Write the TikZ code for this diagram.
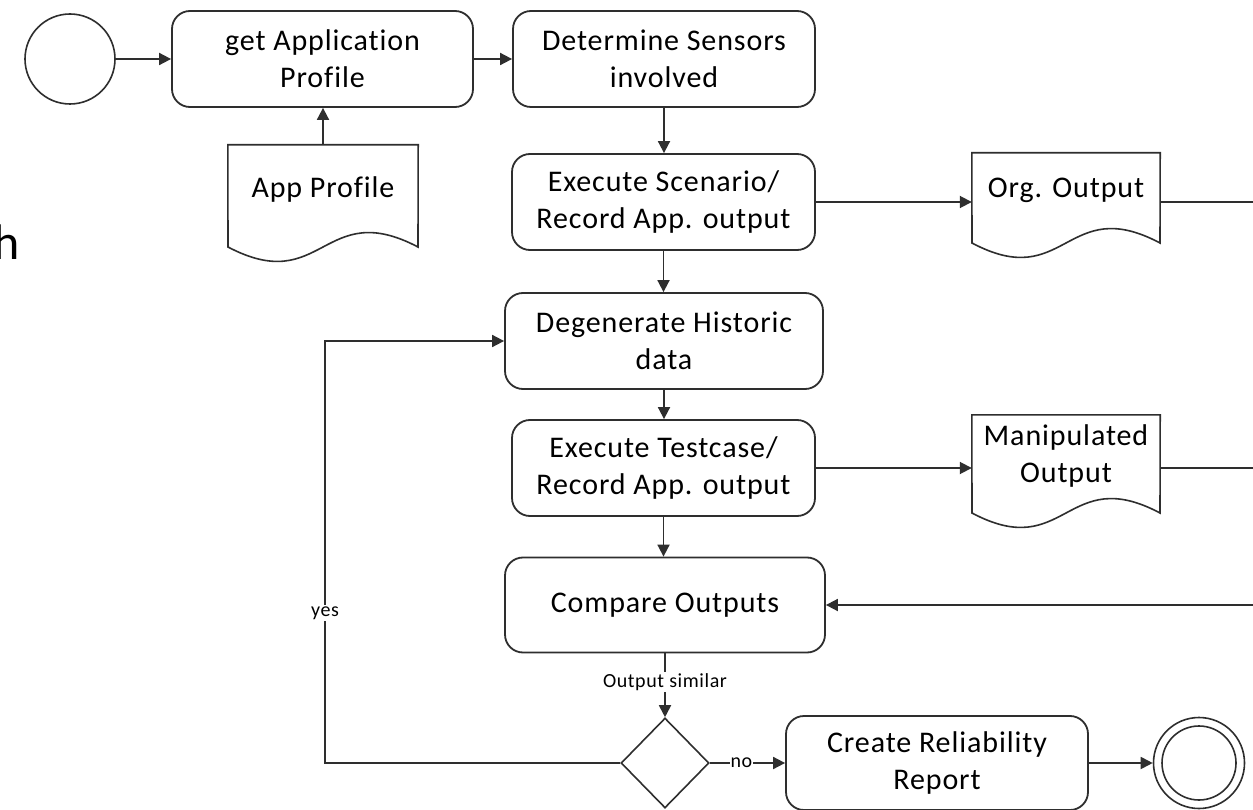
\documentclass[tikz,border=0pt]{standalone}
\usepackage{fontspec}
\setmainfont{Carlito}[Ligatures=NoCommon, LetterSpace=3]
\usetikzlibrary{arrows.meta,shapes.geometric}

\newcommand\flowfont{\fontsize{30}{37}\selectfont}
\newcommand\tagfont{\fontsize{20}{22}\selectfont}

% document symbol: straight top and sides, wavy bottom edge
% #1 node, #2 half width, #3 offset of the side ends below the node centre
\newcommand\docshape[3]{%
  \draw[docline] (#1.north west) -- ([xshift=-#2pt,yshift=-#3pt]#1.center)
    .. controls ([yshift=-#3pt-50pt]#1.center) and ([yshift=-#3pt+50pt]#1.center)
    .. ([xshift=#2pt,yshift=-#3pt]#1.center) -- (#1.north east) -- cycle;}

\begin{document}
\begin{tikzpicture}[x=1pt,y=-1pt,
  line/.style={draw=black!82, line width=1.8pt},
  arr/.style={line, -{Triangle[length=12pt,width=12pt]}},
  task/.style={draw=black!82, line width=1.8pt, rounded corners=18pt,
    align=center, inner sep=0pt, font=\flowfont, minimum height=96pt},
  doc/.style={inner sep=0pt, minimum width=190pt, align=center, font=\flowfont},
  docline/.style={draw=black!82, line width=1.6pt, line join=miter},
  event/.style={circle, draw=black!82, line width=1.6pt, inner sep=0pt, minimum size=90pt},
  gate/.style={diamond, draw=black!82, line width=1.6pt, inner sep=0pt,
    minimum width=88pt, minimum height=90pt},
  tag/.style={fill=white, inner sep=1.5pt, font=\tagfont}]

\useasboundingbox (0,0) rectangle (1253,810);
\fill[white] (0,0) rectangle (1253,810);

% fragment of a word running in from the left
\node[anchor=base east, inner sep=0pt, font=\fontsize{50}{50}\selectfont] (frag) at (20,260) {h};

% events
\node[event] (start) at (70,59) {};
\node[event, minimum size=91pt] (stop) at (1199,763) {};
\draw[line, line width=1.6pt] (stop.center) circle[radius=37pt];

% tasks
\node[task, minimum width=301pt] (get) at (322.5,59) {get Application\\Profile};
\node[task, minimum width=302pt] (det) at (664,59) {Determine Sensors\\involved};
\node[task, minimum width=303pt] (exs) at (663.5,202) {Execute Scenario/\\Record App. output};
\node[task, minimum width=318pt] (deg) at (664,341) {Degenerate Historic\\data};
\node[task, minimum width=303pt] (ext) at (663.5,468) {Execute Testcase/\\Record App. output};
\node[task, minimum width=320pt, minimum height=95pt] (cmp) at (665,605) {Compare Outputs};
\node[task, minimum width=302pt, minimum height=94pt] (rel) at (937,763) {Create Reliability\\Report};

% gateway
\node[gate] (gw) at (665,763) {};

% documents
\node[doc, minimum height=90pt] (app) at (323,190) {App Profile};
\docshape{app}{95}{57}
\node[doc, minimum width=188pt, minimum height=74pt] (org) at (1066,190) {Org. Output};
\docshape{org}{94}{53}
\node[doc, minimum width=188pt, minimum height=82pt] (man) at (1066,456) {Manipulated\\Output};
\docshape{man}{94}{57}

% loose ends leaving the right border
\coordinate (rim) at (1256,0);

% sequence flow
\draw[arr] (start) -- (get);
\draw[arr] (get) -- (det);
\draw[arr] (app.north) -- (app.north |- get.south);
\draw[arr] (det.south) -- (det.south |- exs.north);
\draw[arr] (exs.south) -- (exs.south |- deg.north);
\draw[arr] (deg.south) -- (deg.south |- ext.north);
\draw[arr] (ext.south) -- (ext.south |- cmp.north);
\draw[arr] (exs.east) -- (exs.east -| org.west);
\draw[line] (org.east |- exs.east) -- (exs.east -| rim);
\draw[arr] (ext.east) -- (ext.east -| man.west);
\draw[line] (man.east |- ext.east) -- (ext.east -| rim);
\draw[arr] (cmp.east -| rim) -- (cmp.east);
\draw[arr] (cmp.south) -- (cmp.south |- gw.north)
  node[tag, pos=0.45] (sim) {Output similar};
\coordinate (loop) at (325,0);
\draw[arr] (gw.west) -- (gw.west -| loop) |- (deg.west);
\node[tag] (yes) at (325,613) {yes};
\draw[arr] (gw.east) -- (gw.east -| rel.west) node[tag, inner sep=0.5pt, pos=0.42] (no) {no};
\draw[arr] (rel.east) -- (stop.west);
\end{tikzpicture}
\end{document}
